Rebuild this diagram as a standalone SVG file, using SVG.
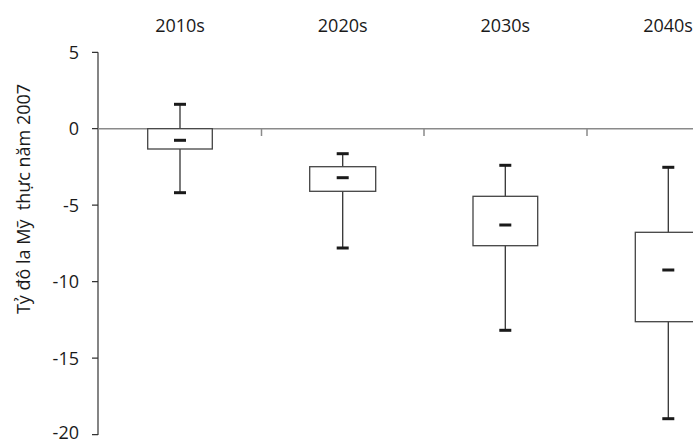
<svg xmlns="http://www.w3.org/2000/svg" width="693" height="443" viewBox="0 0 693 443">
<style>
text{font-family:"Open Sans","Noto Sans","Liberation Sans",sans-serif;font-size:18px;fill:#1a1a1a}
.ax{stroke:#333;stroke-width:1.2;fill:none}
.zero{stroke:#8a8a8a;stroke-width:1.5;fill:none}
.box{fill:#fff;stroke:#444;stroke-width:1.3}
.wh{stroke:#333;stroke-width:1.3}
.cap{fill:#1a1a1a}
</style>
<rect width="693" height="443" fill="#fff"/>
<g id="axes">
<line class="ax" x1="98" y1="52.3" x2="98" y2="435"/>
<path class="ax" d="M92 52.3H98M92 128.7H98M92 205.2H98M92 281.7H98M92 358.2H98M92 434.7H98"/>
<line class="zero" x1="98" y1="128.7" x2="693" y2="128.7"/>
<path class="zero" d="M261.5 128.7V136M424 128.7V136M587 128.7V136" stroke-width="1.2"/>
<g text-anchor="end">
<text x="79" y="58.6">5</text>
<text x="79" y="135">0</text>
<text x="79" y="211.5">-5</text>
<text x="79" y="288">-10</text>
<text x="79" y="364.5">-15</text>
<text x="79" y="439">-20</text>
</g>
<text transform="translate(30,199) rotate(-90)" text-anchor="middle" xml:space="preserve">Tỷ đô la Mỹ  thực năm 2007</text>
</g>
<g id="labels" text-anchor="middle">
<text x="180" y="31.7">2010s</text>
<text x="342.7" y="31.7">2020s</text>
<text x="505.3" y="31.7">2030s</text>
<text x="668" y="31.7">2040s</text>
</g>
<g id="b2010s">
<line class="wh" x1="180" y1="104.3" x2="180" y2="192.7"/>
<rect class="box" x="147.7" y="128.7" width="64.6" height="20.3"/>
<rect class="cap" x="174" y="102.8" width="12" height="3"/>
<rect class="cap" x="174" y="138.8" width="12" height="3"/>
<rect class="cap" x="174" y="191.2" width="12" height="3"/>
</g>
<g id="b2020s">
<line class="wh" x1="342.7" y1="153.7" x2="342.7" y2="248"/>
<rect class="box" x="309.7" y="166.7" width="66" height="24.6"/>
<rect class="cap" x="336.7" y="152.2" width="12" height="3"/>
<rect class="cap" x="336.7" y="176.2" width="12" height="3"/>
<rect class="cap" x="336.7" y="246.5" width="12" height="3"/>
</g>
<g id="b2030s">
<line class="wh" x1="505.3" y1="165.3" x2="505.3" y2="330.3"/>
<rect class="box" x="473" y="196.3" width="64.7" height="49.4"/>
<rect class="cap" x="499.3" y="163.8" width="12" height="3"/>
<rect class="cap" x="499.3" y="223.5" width="12" height="3"/>
<rect class="cap" x="499.3" y="328.8" width="12" height="3"/>
</g>
<g id="b2040s">
<line class="wh" x1="668.3" y1="167.3" x2="668.3" y2="418.7"/>
<rect class="box" x="635.3" y="232.3" width="66" height="89.4"/>
<rect class="cap" x="662.3" y="165.8" width="12" height="3"/>
<rect class="cap" x="662.3" y="268.5" width="12" height="3"/>
<rect class="cap" x="662.3" y="417.2" width="12" height="3"/>
</g>
</svg>
